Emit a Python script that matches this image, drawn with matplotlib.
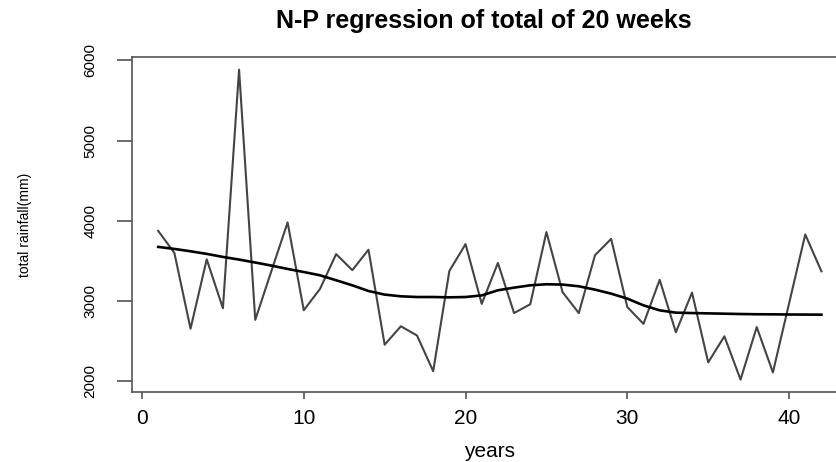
import matplotlib.pyplot as plt

plt.rcParams['font.family'] = ['Liberation Sans', 'DejaVu Sans']

# yearly totals of 20-week rainfall (mm), years 1..42
years = list(range(1, 43))
rainfall = [3875, 3600, 2655, 3520, 2910, 5885, 2765, 3375, 3980, 2885,
            3150, 3585, 3385, 3640, 2455, 2685, 2570, 2125, 3375, 3710,
            2965, 3475, 2850, 2960, 3860, 3110, 2850, 3570, 3775, 2925,
            2715, 3265, 2610, 3105, 2235, 2560, 2020, 2675, 2110, 2970,
            3830, 3370]
# non-parametric (kernel) regression fit
fitted = [3675, 3650, 3620, 3588, 3550, 3517, 3480, 3442, 3400, 3362,
          3321, 3259, 3196, 3125, 3080, 3059, 3050, 3050, 3046, 3050,
          3070, 3134, 3167, 3196, 3209, 3205, 3184, 3142, 3092, 3030,
          2946, 2884, 2855, 2850, 2846, 2842, 2838, 2835, 2834, 2832,
          2831, 2830]

xticks = [0, 10, 20, 30, 40]
yticks = [2000, 3000, 4000, 5000, 6000]

fig = plt.figure(figsize=(8.37, 4.62), dpi=100)
ax = fig.add_axes([0.1573, 0.1515, 0.8558, 0.7245])

ax.plot(years, rainfall, color='#444444', lw=1.5)
ax.plot(years, fitted, color='black', lw=1.9)
ax.margins(x=0.04, y=0.04)

ax.set_xticks(xticks)
ax.set_xticklabels([str(t) for t in xticks], fontsize=15)
ax.set_yticks(yticks)
ax.set_yticklabels([str(t) for t in yticks], fontsize=11, rotation=90, va='center')
ax.tick_params(axis='x', length=5, width=1.1, pad=7, colors='#444444', labelcolor='black')
ax.tick_params(axis='y', length=10.8, width=1.1, pad=14, colors='#444444', labelcolor='black')
for s in ax.spines.values():
    s.set_color('#555555')
    s.set_linewidth(1.2)

fig.text(0.578, 0.954, 'N-P regression of total of 20 weeks', ha='center', va='center',
         fontsize=18, fontweight='bold')
fig.text(0.585, 0.022, 'years', ha='center', va='center', fontsize=15)
fig.text(0.030, 0.513, 'total rainfall(mm)', ha='center', va='center', fontsize=10,
         rotation=90)

fig.savefig('out.png', dpi=100)
